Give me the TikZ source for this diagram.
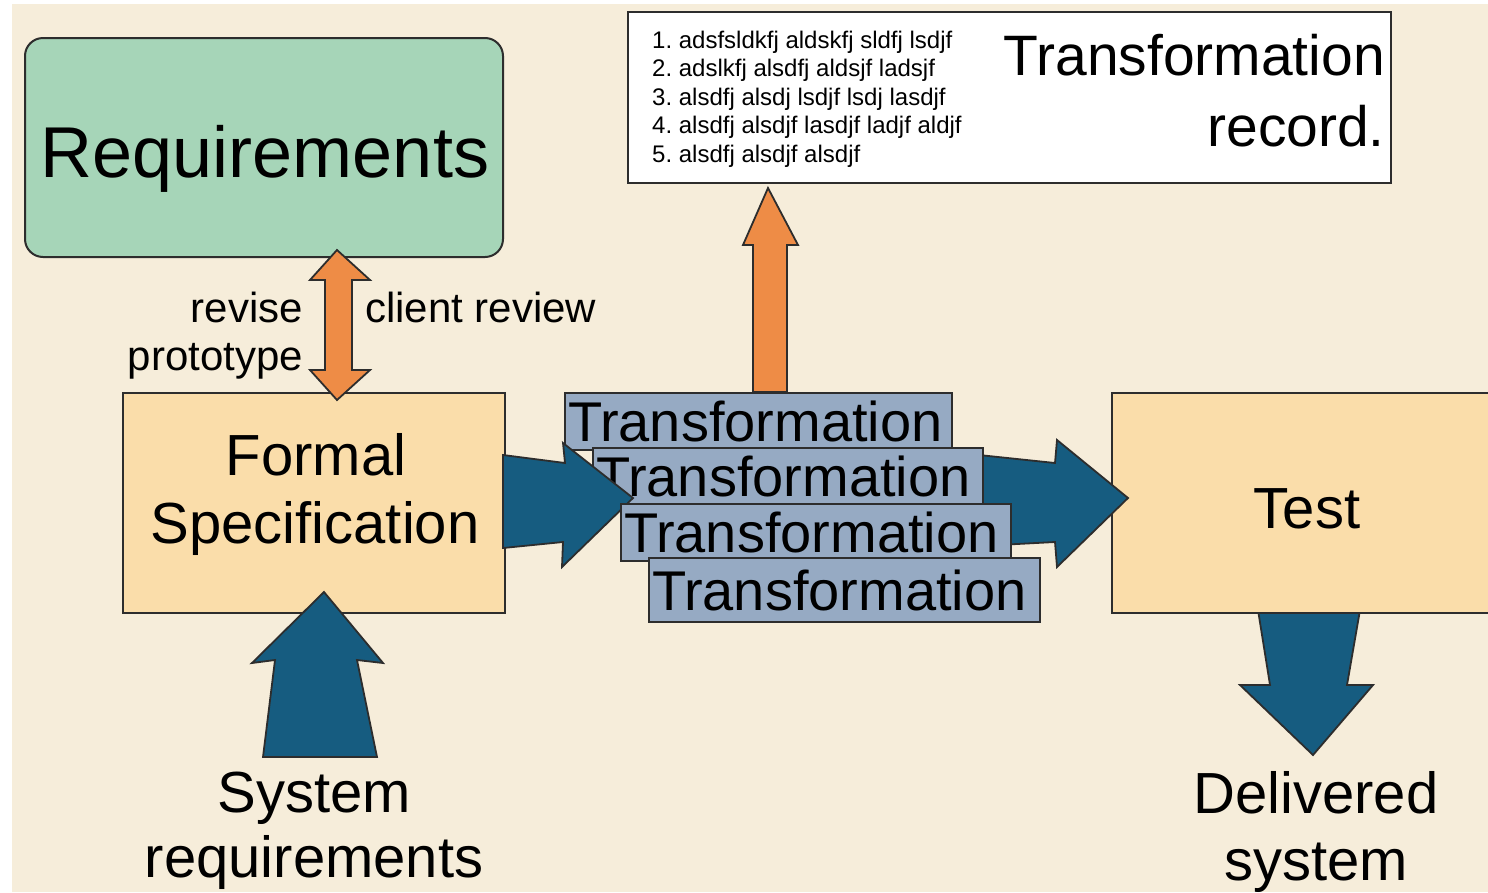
\documentclass[tikz,border=0pt]{standalone}
\usepackage{fontspec}
\setmainfont{Liberation Sans}
\definecolor{cream}{RGB}{246,237,218}
\definecolor{mint}{RGB}{166,213,184}
\definecolor{peach}{RGB}{250,221,170}
\definecolor{tgray}{RGB}{150,170,195}
\definecolor{dblue}{RGB}{22,92,128}
\definecolor{orng}{RGB}{238,140,70}
\definecolor{edge}{RGB}{45,45,45}
\newcommand{\fsz}[1]{\fontsize{#1}{#1}\selectfont}
\begin{document}
\begin{tikzpicture}[x=1pt,y=-1pt,line join=miter,
  box/.style={draw=edge,line width=2pt,inner sep=0pt,outer sep=0pt},
  tbox/.style={box,fill=tgray,font=\fsz{56},inner xsep=3pt,text width=384pt,align=left,minimum height=57pt},
  bluearrow/.style={draw=edge,line width=1.8pt,fill=dblue},
  orangearrow/.style={draw=edge,line width=1.8pt,fill=orng},
  txt/.style={inner sep=0pt,anchor=base}]
\useasboundingbox (0,0) rectangle (1488,892);
\fill[white] (0,0) rectangle (1488,892);
\fill[cream] (12,4) rectangle (1488,892);

% main boxes
\node[box,fill=mint,rounded corners=18pt,minimum width=478pt,minimum height=219pt] (req) at (264,147.5) {};
\node[box,fill=peach,minimum width=382pt,minimum height=220pt] (spec) at (314,503) {};
\node[box,fill=white,line width=2.2pt,minimum width=763pt,minimum height=171pt] (rec) at (1009.5,97.5) {};

% arrow down from Test (behind test box)
\draw[bluearrow] (1258,610) -- (1270,685) -- (1240,685) -- (1313,755) -- (1373,685) -- (1347,685) -- (1360,610) -- cycle;
\node[box,fill=peach,minimum width=388pt,minimum height=220pt] (test) at (1306,503) {};

% arrow into Test (behind transformation boxes)
\draw[bluearrow] (960,453) -- (1055,463) -- (1057,440) -- (1128,498) -- (1057,567) -- (1055,542) -- (960,547) -- cycle;

% orange arrow up to record
\draw[orangearrow] (753,392) -- (753,245) -- (743,245) -- (768,188) -- (798,245) -- (787,245) -- (787,392) -- cycle;

% transformation stack
\node[tbox,text width=381pt] (t1) at (758.5,421.5) {Transformation};
\node[tbox] (t2) at (788,476.5) {Transformation};
\draw[bluearrow] (503,455) -- (565,463) -- (563,443) -- (633,498) -- (562,567) -- (563,542) -- (503,548) -- cycle;
\node[tbox] (t3) at (816,532.5) {Transformation};
\node[tbox,text width=385pt,minimum height=64pt] (t4) at (844.5,590) {Transformation};

% arrow up into Formal Specification
\draw[bluearrow] (263,757) -- (275,660) -- (252,663) -- (324,592) -- (383,663) -- (357,660) -- (377,757) -- cycle;

% orange double arrow
\draw[orangearrow] (325,280) -- (310,280) -- (337,250) -- (370,280) -- (352,280) -- (352,370) -- (370,370) -- (337,400) -- (310,370) -- (325,370) -- cycle;

% texts
\node[txt,font=\fsz{72}] (reqt) at (265,177) {Requirements};
\node[txt,font=\fsz{58}] (spec1) at (316,475) {Formal};
\node[txt,font=\fsz{58}] (spec2) at (315,543) {Specification};
\node[txt,font=\fsz{58}] (testt) at (1307,528) {Test};
\node[txt,font=\fsz{58}] (sys1) at (314,812) {System};
\node[txt,font=\fsz{58}] (sys2) at (314,877) {requirements};
\node[txt,font=\fsz{58}] (del1) at (1316,813) {Delivered};
\node[txt,font=\fsz{58}] (del2) at (1316,880) {system};
\node[txt,anchor=base east,font=\fsz{42}] (rev) at (303,322) {revise};
\node[txt,anchor=base east,font=\fsz{42}] (proto) at (303,370) {prototype};
\node[txt,anchor=base west,font=\fsz{42}] (client) at (365,322) {client review};
\node[txt,anchor=base east,font=\fsz{57}] (rect1) at (1385,75) {Transformation};
\node[txt,anchor=base east,font=\fsz{57}] (rect2) at (1385,146) {record.};
\begin{scope}[every node/.style={txt,anchor=base west,font=\fsz{24}}]
\node (l1) at (652,48) {1.\ adsfsldkfj aldskfj sldfj lsdjf};
\node (l2) at (652,76.5) {2.\ adslkfj alsdfj aldsjf ladsjf};
\node (l3) at (652,105) {3.\ alsdfj alsdj lsdjf lsdj lasdjf};
\node (l4) at (652,133.5) {4.\ alsdfj alsdjf lasdjf ladjf aldjf};
\node (l5) at (652,162) {5.\ alsdfj alsdjf alsdjf};
\end{scope}
\end{tikzpicture}
\end{document}
